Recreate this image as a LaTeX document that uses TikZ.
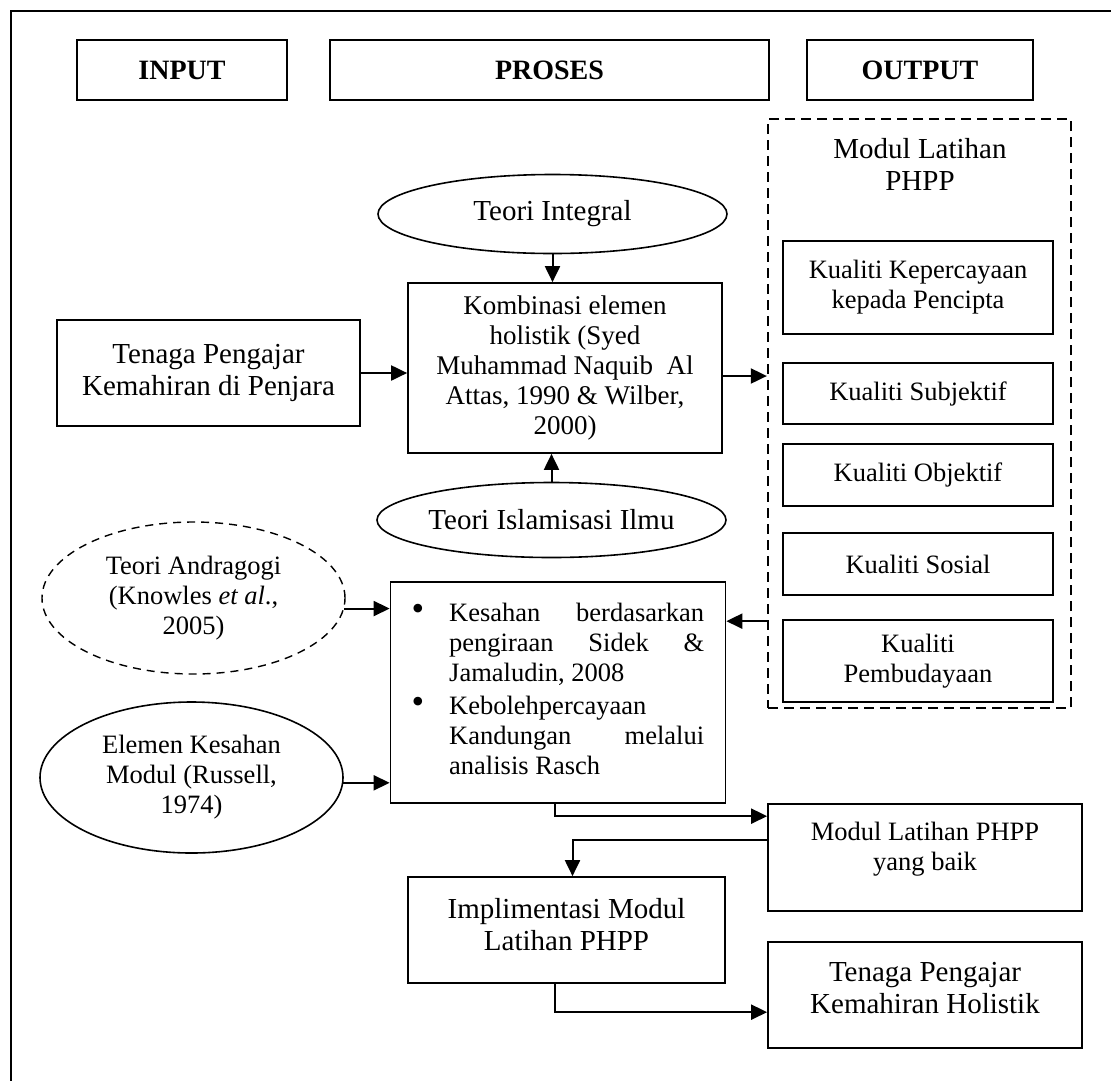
\documentclass[tikz,border=0pt]{standalone}
\usepackage{fontspec}
\setmainfont{Liberation Serif}
\usetikzlibrary{arrows.meta,shapes.geometric,calc}
\newcommand\myfa{\fontsize{29pt}{32pt}\selectfont}
\newcommand\myfb{\fontsize{26.5pt}{30pt}\selectfont}
\newcommand\myfc{\fontsize{27pt}{30pt}\selectfont}
\newcommand\myhd{\fontsize{28pt}{30pt}\selectfont\bfseries}
\newcommand\mybul{\fontsize{36pt}{36pt}\selectfont}
\begin{document}
\begin{tikzpicture}[x=1pt,y=-1pt,
  box/.style={draw, line width=1.7pt, inner sep=0pt, align=center},
  oval/.style={draw, ellipse, line width=1.6pt, inner sep=0pt, align=center},
  dashbox/.style={draw, line width=2.3pt, dash pattern=on 10pt off 6pt, inner sep=0pt},
  dashoval/.style={draw, ellipse, line width=1.4pt, dash pattern=on 8pt off 6pt, inner sep=0pt, align=center},
  txt/.style={inner sep=0pt, align=center},
  arr/.style={line width=2pt, -{Triangle[length=16pt,width=15pt]}},
  frame/.style={line width=2pt}
]
\useasboundingbox (0,0) rectangle (1111,1080);
\draw[frame] (11,11) rectangle (1135,1110);

% headers
\node[box, minimum width=210, minimum height=60, font=\myhd] (hin) at (182,70) {INPUT};
\node[box, minimum width=439, minimum height=60, font=\myhd] (hpr) at (549.5,70) {PROSES};
\node[box, minimum width=226, minimum height=60, font=\myhd] (hout) at (920,70) {OUTPUT};

% output dashed box
\node[dashbox, minimum width=303, minimum height=589] (ob) at (919.5,413.5) {};
\node[txt, font=\myfa] (obt) at (920,164) {Modul Latihan\\PHPP};
\node[box, minimum width=270, minimum height=93, font=\myfb] (k1) at (918,287.5) {Kualiti Kepercayaan\\kepada Pencipta};
\node[box, minimum width=270, minimum height=61, font=\myfb] (k2) at (918,393.5) {Kualiti Subjektif};
\node[box, minimum width=270, minimum height=62, font=\myfb] (k3) at (918,475) {Kualiti Objektif};
\node[box, minimum width=270, minimum height=62, font=\myfb] (k4) at (918,564) {Kualiti Sosial};
\node[box, minimum width=270, minimum height=82, font=\myfb] (k5) at (918,661) {Kualiti\\Pembudayaan};

% process column
\node[oval, minimum width=349, minimum height=79, font=\myfa] (ti) at (552.5,214) {Teori Integral};
\node[box, minimum width=314, minimum height=170, font=\myfc] (kb) at (565,368) {Kombinasi elemen\\holistik (Syed\\Muhammad Naquib\ \ Al\\Attas, 1990 \& Wilber,\\2000)};
\node[oval, minimum width=349, minimum height=75, font=\myfa] (ii) at (551.5,520) {Teori Islamisasi Ilmu};
\node[box, minimum width=303, minimum height=106, font=\myfa] (tp) at (208.5,373) {Tenaga Pengajar\\Kemahiran di Penjara};

\node[dashoval, minimum width=303, minimum height=152, font=\myfb] (ta) at (193.5,598) {Teori Andragogi\\(Knowles \textit{et al}.,\\2005)};
\node[oval, minimum width=303, minimum height=151, font=\myfb] (ek) at (191.5,777.5) {Elemen Kesahan\\Modul (Russell,\\1974)};

\node[box, minimum width=335, minimum height=221] (ks) at (558,692.5) {};
\node[txt, font=\mybul] (b1) at (418,612) {\textbullet};
\node[txt, font=\mybul] (b2) at (418,705) {\textbullet};
\node[inner sep=0pt, font=\myfb, text width=255pt, align=justify, anchor=north west] (ks1) at (449,603) {Kesahan berdasarkan\linebreak pengiraan Sidek \&\linebreak Jamaludin, 2008};
\node[inner sep=0pt, font=\myfb, text width=255pt, align=justify, anchor=north west] (ks2) at (449,696) {Kebolehpercayaan\linebreak Kandungan melalui\linebreak analisis Rasch};

\node[box, minimum width=314, minimum height=107] (mb) at (925,857.5) {};
\node[txt, font=\myfb] (mbt) at (925,849) {Modul Latihan PHPP\\yang baik};
\node[box, minimum width=317, minimum height=106] (im) at (566.5,930) {};
\node[txt, font=\myfa] (imt) at (566.5,925) {Implimentasi Modul\\Latihan PHPP};
\node[box, minimum width=314, minimum height=106] (th) at (925,995) {};
\node[txt, font=\myfa] (tht) at (925,988) {Tenaga Pengajar\\Kemahiran Holistik};

% connectors
\draw[arr] (ti.south) -- (ti.south |- kb.north);
\draw[arr] (ii.north) -- (ii.north |- kb.south);
\draw[arr] (tp.east) -- (tp.east -| kb.west);
\coordinate (kbo) at ([yshift=-8pt]kb.east);
\draw[arr] (kbo) -- (kbo -| ob.west);
\draw[arr] (ta.-4) -- (ta.-4 -| ks.west);
\draw[arr] (ek.-2) -- (ek.-2 -| ks.west);
\coordinate (fbin) at ([yshift=-40pt]ks.north east);
\draw[arr] (fbin -| ob.west) -- (fbin);
\coordinate (m1) at ([yshift=-13pt]mb.north west);
\coordinate (ksb) at ([xshift=-3pt]ks.south);
\draw[arr] (ksb) |- (m1);
\coordinate (m2) at ([yshift=-37pt]mb.north west);
\coordinate (i1) at ([xshift=6pt]im.north);
\draw[arr] (m2) -| (i1);
\coordinate (imb) at ([xshift=-12pt]im.south);
\coordinate (t1) at ([yshift=-71pt]th.north west);
\draw[arr] (imb) |- (t1);
\end{tikzpicture}
\end{document}
